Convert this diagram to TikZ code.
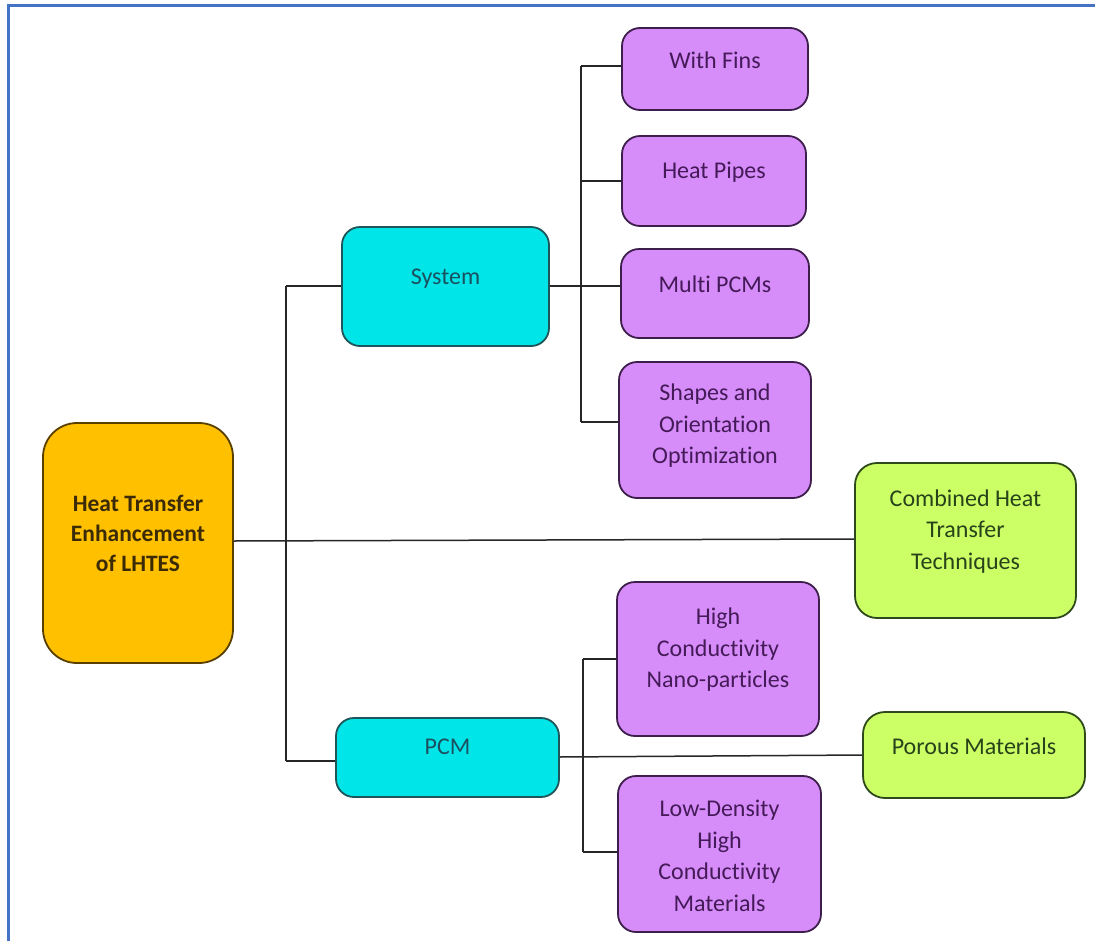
\documentclass[tikz,border=0pt]{standalone}
\usepackage{fontspec}
\setmainfont{Carlito}[Ligatures={NoCommon}]
\usetikzlibrary{calc}
\definecolor{pfill}{HTML}{D68CF9}
\definecolor{pdraw}{HTML}{3E1F4C}
\definecolor{ptext}{HTML}{451A58}
\definecolor{cfill}{HTML}{00E6E8}
\definecolor{cdraw}{HTML}{1F5558}
\definecolor{ctext}{HTML}{1B5060}
\definecolor{gfill}{HTML}{CCFF66}
\definecolor{gdraw}{HTML}{2F4A1A}
\definecolor{gtext}{HTML}{28421A}
\definecolor{ofill}{HTML}{FFC000}
\definecolor{odraw}{HTML}{5A4000}
\definecolor{otext}{HTML}{3A2A05}
\definecolor{frame}{HTML}{4472C4}
\tikzset{
  x=1pt,y=-1pt,
  basebox/.style={draw, line width=1.8pt, inner sep=0pt},
  pbox/.style={basebox, fill=pfill, draw=pdraw, rounded corners=18pt},
  cbox/.style={basebox, fill=cfill, draw=cdraw, rounded corners=18pt},
  gbox/.style={basebox, fill=gfill, draw=gdraw, rounded corners=22pt},
  obox/.style={basebox, fill=ofill, draw=odraw, rounded corners=34pt},
  txt/.style={align=center, font=\fontsize{24}{31.5}\selectfont, inner sep=0pt},
  conn/.style={line width=1.5pt, draw=black!85},
}
\newcommand{\boxat}[6]{% style, name, x1, y1, x2, y2
  \node[#1, minimum width={#5-#3}, minimum height={#6-#4}] (#2) at ({(#3+#5)/2},{(#4+#6)/2}) {};}
\begin{document}
\begin{tikzpicture}
\useasboundingbox (0,0) rectangle (1095,940);
\fill[white] (0,0) rectangle (1095,940);
\draw[frame, line width=3pt] (8,941) -- (8,5) -- (1096,5);

% coordinates for connector joints
\coordinate (t1) at (286,286);
\coordinate (t2) at (286,761);
\coordinate (s1) at (581,66);
\coordinate (s2) at (581,181);
\coordinate (s3) at (581,286);
\coordinate (s4) at (581,422);
\coordinate (q1) at (583,659);
\coordinate (q2) at (583,852);

% connectors (drawn first, behind boxes)
\draw[conn] (233,541) -- (855,539);
\draw[conn] (t1) -- (t2);
\draw[conn] (t1) -- (342,286);
\draw[conn] (t2) -- (336,761);
\draw[conn] (549,286) -- (621,286);
\draw[conn] (s1) -- (s4);
\draw[conn] (s1) -- (622,66);
\draw[conn] (s2) -- (622,181);
\draw[conn] (s4) -- (619,422);
\draw[conn] (559,757) -- (863,755);
\draw[conn] (q1) -- (q2);
\draw[conn] (q1) -- (617,659);
\draw[conn] (q2) -- (618,852);

% boxes
\boxat{obox}{root}{43}{423}{233}{663}
\boxat{cbox}{sys}{342}{227}{549}{346}
\boxat{cbox}{pcm}{336}{718}{559}{797}
\boxat{pbox}{fins}{622}{28}{808}{110}
\boxat{pbox}{pipes}{622}{136}{806}{226}
\boxat{pbox}{multi}{621}{249}{809}{338}
\boxat{pbox}{shapes}{619}{362}{811}{498}
\boxat{gbox}{comb}{855}{463}{1076}{618}
\boxat{pbox}{nano}{617}{582}{819}{736}
\boxat{gbox}{porous}{863}{712}{1085}{798}
\boxat{pbox}{lowd}{618}{776}{821}{932}

% texts
\node[txt, text=otext, font=\fontsize{23.5}{30}\selectfont\bfseries] (rootT) at ($(root.center)+(0,-10)$) {Heat Transfer\\Enhancement\\of LHTES};
\node[txt, text=ctext] (sysT) at ($(sys.center)+(0,-8)$) {System};
\node[txt, text=ctext] (pcmT) at ($(pcm.center)+(0,-11)$) {PCM};
\node[txt, text=ptext] (finsT) at ($(fins.center)+(0,-9)$) {With Fins};
\node[txt, text=ptext] (pipesT) at ($(pipes.center)+(0,-9)$) {Heat Pipes};
\node[txt, text=ptext] (multiT) at ($(multi.center)+(0,-9)$) {Multi PCMs};
\node[txt, text=ptext] (shapesT) at ($(shapes.center)+(0,-4)$) {Shapes and\\Orientation\\Optimization};
\node[txt, text=gtext] (combT) at ($(comb.center)+(0,-9)$) {Combined Heat\\Transfer\\Techniques};
\node[txt, text=ptext] (nanoT) at ($(nano.center)+(0,-9)$) {High\\Conductivity\\Nano-particles};
\node[txt, text=gtext] (porousT) at ($(porous.center)+(0,-9)$) {Porous Materials};
\node[txt, text=ptext] (lowdT) at ($(lowd.center)+(0,2)$) {Low-Density\\High\\Conductivity\\Materials};
\end{tikzpicture}
\end{document}
